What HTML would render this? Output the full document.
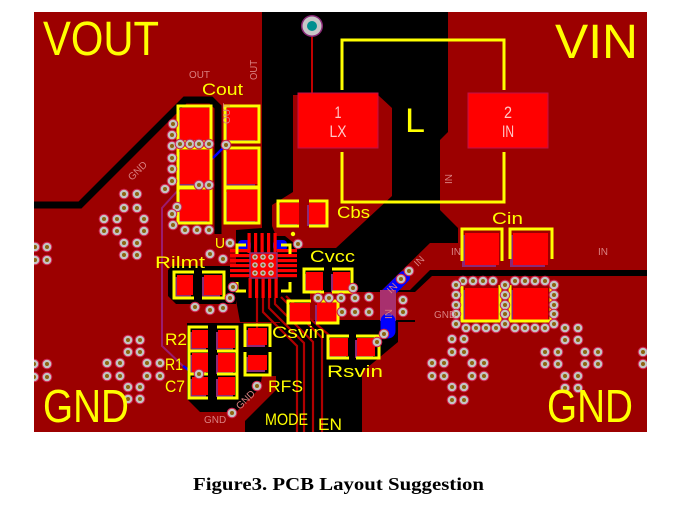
<!DOCTYPE html>
<html><head><meta charset="utf-8"><style>
html,body{margin:0;padding:0;background:#fff;}
svg{display:block;}
.y{fill:#ffff00;font-family:"Liberation Sans",sans-serif;}
.n{fill:#d98080;font-family:"Liberation Sans",sans-serif;font-size:10px;}
.p{fill:#ffc8c8;font-family:"Liberation Sans",sans-serif;font-size:17px;text-anchor:middle;}
.o{fill:none;stroke:#ffff00;stroke-width:3;}
.pad{fill:#ff0000;}
.pu{fill:#8a2a78;}
.tr{fill:none;stroke:#b00000;stroke-width:2.2;}
</style></head><body>
<svg width="676" height="506" viewBox="0 0 676 506" xmlns="http://www.w3.org/2000/svg" xmlns:xlink="http://www.w3.org/1999/xlink">
<defs>
<clipPath id="bc"><rect x="34" y="12" width="613" height="420"/></clipPath>
<g id="v"><circle r="5.3" fill="#d0204a"/><circle r="4.3" fill="#c4c4c4"/><circle r="2" fill="#8c6410"/></g>
<g id="sv"><circle r="2.8" fill="#c4c4c4"/><circle r="1.4" fill="#8c6410"/></g>
</defs>
<rect width="676" height="506" fill="#fff"/>
<g clip-path="url(#bc)">
<rect x="34" y="12" width="613" height="420" fill="#9c0000"/>

<!-- black clearance regions -->
<polygon fill="#000" points="262,12 448,12 448,132 440,140 440,210 458,228 458,270 647,270 647,276 432,276 415,292 415,322 398,322 398,342 362,372 362,432 243,432 243,422 280,385 280,322 240,322 236,300 236,230 262,228"/>
<polyline fill="none" stroke="#000" stroke-width="7" points="28,205 80,205 185,100 211,100 218,107 218,234"/>
<polygon fill="#000" points="172,266 236,266 236,304 176,304 168,296 168,270"/>
<polygon fill="#000" points="187,323 280,323 280,395 243,422 236,412 200,412 187,399"/>

<!-- dark red copper on top -->
<polygon fill="#9c0000" points="205,432 205,414 234,414 260,388 262,376 276,376 276,390 245,421 245,432"/>
<polygon fill="#9c0000" points="293,95 378,95 392,108 392,196 336,248 300,248 285,236 276,236 272,226 272,205 293,192"/>
<polygon fill="#9c0000" points="460,243 430,243 382,290 410,290 430,270 460,270"/>
<rect x="310" y="292" width="105" height="28" fill="#9c0000"/>

<!-- bottom layer traces -->
<polyline fill="none" stroke="#9b1b6e" stroke-width="2" points="190,177 162,208 162,346 183,366"/>
<line x1="183" y1="366" x2="194" y2="374" stroke="#0000ff" stroke-width="2.5"/>
<line x1="226" y1="145" x2="213" y2="158" stroke="#0000ff" stroke-width="2.5"/>
<line x1="213" y1="158" x2="206" y2="166" stroke="#9b1b6e" stroke-width="2"/>
<path d="M404,277 L387,294" stroke="#0000ff" stroke-width="12" stroke-linecap="round" fill="none"/>
<rect x="380" y="290" width="16" height="31" fill="#a8306e"/>
<path d="M388,321 L388,331" stroke="#0000ff" stroke-width="15" stroke-linecap="round" fill="none"/>

<!-- thin traces -->
<line x1="312" y1="36" x2="312" y2="94" stroke="#c00000" stroke-width="2"/>
<path class="tr" d="M257,298 L257,328"/>
<path class="tr" d="M263,298 L263,312 L297,346 L297,432"/>
<path class="tr" d="M269,298 L269,308 L304,343 L304,432"/>
<path class="tr" d="M275,298 L275,304 L313,342 L313,432"/>
<path class="tr" d="M281,297 L322,338 L322,432"/>
<path class="tr" d="M286,296 L300,310 L330,336"/>

<!-- IC blue blobs -->
<rect x="238" y="240" width="13" height="11" rx="4" fill="#0000ff"/>
<rect x="273" y="240" width="14" height="11" rx="4" fill="#0000ff"/>

<!-- pads with purple underlay -->
<g>
<rect class="pu" x="177" y="110" width="30" height="32"/><rect class="pad" x="180" y="108" width="30" height="32"/>
<rect class="pu" x="177" y="152" width="30" height="34"/><rect class="pad" x="180" y="150" width="30" height="34"/>
<rect class="pu" x="177" y="192" width="30" height="31"/><rect class="pad" x="180" y="190" width="30" height="31"/>
<rect class="pu" x="224" y="110" width="31" height="32"/><rect class="pad" x="227" y="108" width="31" height="32"/>
<rect class="pu" x="224" y="152" width="31" height="34"/><rect class="pad" x="227" y="150" width="31" height="34"/>
<rect class="pu" x="224" y="192" width="31" height="31"/><rect class="pad" x="227" y="190" width="31" height="31"/>
<rect class="pu" x="278" y="205" width="19" height="21"/><rect class="pad" x="280" y="203" width="19" height="21"/>
<rect class="pu" x="307" y="205" width="19" height="21"/><rect class="pad" x="309" y="203" width="19" height="21"/>
<rect class="pu" x="304" y="274" width="17" height="18"/><rect class="pad" x="306" y="272" width="17" height="18"/>
<rect class="pu" x="331" y="274" width="17" height="18"/><rect class="pad" x="333" y="272" width="17" height="18"/>
<rect class="pu" x="288" y="305" width="20" height="19"/><rect class="pad" x="290" y="303" width="20" height="19"/>
<rect class="pu" x="315" y="305" width="20" height="19"/><rect class="pad" x="317" y="303" width="20" height="19"/>
<rect class="pu" x="328" y="340" width="18" height="18"/><rect class="pad" x="330" y="338" width="18" height="18"/>
<rect class="pu" x="355" y="340" width="18" height="18"/><rect class="pad" x="357" y="338" width="18" height="18"/>
<rect class="pu" x="175" y="277" width="16" height="20"/><rect class="pad" x="177" y="275" width="16" height="20"/>
<rect class="pu" x="202" y="277" width="18" height="20"/><rect class="pad" x="204" y="275" width="18" height="20"/>
<rect class="pu" x="190" y="332" width="16" height="18"/><rect class="pad" x="192" y="330" width="16" height="18"/>
<rect class="pu" x="190" y="355" width="16" height="19"/><rect class="pad" x="192" y="353" width="16" height="19"/>
<rect class="pu" x="190" y="379" width="16" height="18"/><rect class="pad" x="192" y="377" width="16" height="18"/>
<rect class="pu" x="216" y="332" width="17" height="18"/><rect class="pad" x="218" y="330" width="17" height="18"/>
<rect class="pu" x="216" y="355" width="17" height="19"/><rect class="pad" x="218" y="353" width="17" height="19"/>
<rect class="pu" x="216" y="379" width="17" height="18"/><rect class="pad" x="218" y="377" width="17" height="18"/>
<rect class="pu" x="246" y="330" width="19" height="17"/><rect class="pad" x="248" y="328" width="19" height="17"/>
<rect class="pu" x="246" y="357" width="19" height="15"/><rect class="pad" x="248" y="355" width="19" height="15"/>
<rect class="pu" x="462" y="235" width="34" height="32"/><rect class="pad" x="465" y="233" width="34" height="32"/>
<rect class="pu" x="510" y="235" width="35" height="32"/><rect class="pad" x="513" y="233" width="35" height="32"/>
<rect class="pu" x="462" y="290" width="33" height="32"/><rect class="pad" x="465" y="288" width="33" height="32"/>
<rect class="pu" x="510" y="290" width="35" height="32"/><rect class="pad" x="513" y="288" width="35" height="32"/>
<rect class="pad" x="298" y="93" width="80" height="55" stroke="#c0104a" stroke-width="1"/>
<rect class="pad" x="468" y="93" width="80" height="55" stroke="#c0104a" stroke-width="1"/>
</g>

<!-- IC -->
<g fill="#ff0000">
<rect x="230" y="249" width="20" height="3.2"/><rect x="230" y="254" width="20" height="3.2"/><rect x="230" y="259" width="20" height="3.2"/><rect x="230" y="264" width="20" height="3.2"/><rect x="230" y="269" width="20" height="3.2"/><rect x="230" y="274" width="20" height="3.2"/>
<rect x="277" y="249" width="20" height="3.2"/><rect x="277" y="254" width="20" height="3.2"/><rect x="277" y="259" width="20" height="3.2"/><rect x="277" y="264" width="20" height="3.2"/><rect x="277" y="269" width="20" height="3.2"/><rect x="277" y="274" width="20" height="3.2"/>
<rect x="247.5" y="233" width="3.2" height="20"/><rect x="254" y="233" width="3.2" height="20"/><rect x="260.5" y="233" width="3.2" height="20"/><rect x="267" y="233" width="3.2" height="20"/><rect x="273.5" y="233" width="3.2" height="20"/>
<rect x="248.5" y="278" width="3.2" height="20"/><rect x="255" y="278" width="3.2" height="20"/><rect x="261.5" y="278" width="3.2" height="20"/><rect x="268" y="278" width="3.2" height="20"/><rect x="274.5" y="278" width="3.2" height="20"/>
</g>
<rect x="250" y="253" width="27" height="25" fill="#ff0000" stroke="#8a2a78" stroke-width="1.5"/>
<use xlink:href="#sv" x="255" y="257"/><use xlink:href="#sv" x="263" y="257"/><use xlink:href="#sv" x="271" y="257"/>
<use xlink:href="#sv" x="255" y="265"/><use xlink:href="#sv" x="263" y="265"/><use xlink:href="#sv" x="271" y="265"/>
<use xlink:href="#sv" x="255" y="273"/><use xlink:href="#sv" x="263" y="273"/><use xlink:href="#sv" x="271" y="273"/>
<path class="o" stroke-width="2" d="M237,254 L237,245 L246,245 M281,245 L290,245 L290,254 M237,282 L237,291 L246,291 M281,291 L290,291 L290,282"/>
<circle cx="293" cy="234" r="2.2" fill="#ffff00"/>

<!-- silkscreen outlines -->
<rect class="o" x="178" y="106" width="33" height="36"/>
<rect class="o" x="178" y="148" width="33" height="39"/>
<rect class="o" x="178" y="188" width="33" height="35"/>
<rect class="o" x="225" y="106" width="34" height="36"/>
<rect class="o" x="225" y="148" width="34" height="39"/>
<rect class="o" x="225" y="188" width="34" height="35"/>
<polyline class="o" points="342,90 342,40 504,40 504,90"/>
<polyline class="o" points="342,152 342,202 504,202 504,152"/>
<polyline class="o" points="299,201 278,201 278,226 299,226"/>
<polyline class="o" points="309,201 327,201 327,226 309,226"/>
<polyline class="o" points="324,269 304,269 304,292 324,292"/>
<polyline class="o" points="332,269 352,269 352,292 332,292"/>
<polyline class="o" points="311,301 288,301 288,323 311,323"/>
<polyline class="o" points="316,301 338,301 338,323 316,323"/>
<polyline class="o" points="349,336 328,336 328,358 349,358"/>
<polyline class="o" points="356,336 379,336 379,358 356,358"/>
<polyline class="o" points="194,272 174,272 174,298 194,298"/>
<polyline class="o" points="202,272 224,272 224,298 202,298"/>
<polyline class="o" points="208,327 189,327 189,398 208,398"/>
<polyline class="o" points="217,327 237,327 237,398 217,398"/>
<path class="o" d="M189,351 L208,351 M189,374 L208,374 M217,351 L237,351 M217,374 L237,374"/>
<polyline class="o" points="245,347 245,325 270,325 270,347"/>
<polyline class="o" points="245,352 245,375 270,375 270,352"/>
<polyline class="o" points="462,261 462,229 502,229 502,261"/>
<polyline class="o" points="510,259 510,229 552,229 552,259"/>
<polyline class="o" points="462,285 462,321 500,321 500,285"/>
<polyline class="o" points="510,285 510,321 551,321 551,285"/>

<!-- teal via -->
<circle cx="312" cy="26" r="11" fill="#8a2a78"/>
<circle cx="312" cy="26" r="9.5" fill="#c8c8c8"/>
<circle cx="312" cy="26" r="5" fill="#009090"/>

<!-- vias -->
<g>
<use xlink:href="#v" x="124" y="194"/><use xlink:href="#v" x="137" y="194"/><use xlink:href="#v" x="124" y="208"/><use xlink:href="#v" x="137" y="208"/>
<use xlink:href="#v" x="104" y="219"/><use xlink:href="#v" x="117" y="219"/><use xlink:href="#v" x="144" y="219"/>
<use xlink:href="#v" x="104" y="231"/><use xlink:href="#v" x="117" y="231"/><use xlink:href="#v" x="144" y="231"/>
<use xlink:href="#v" x="124" y="243"/><use xlink:href="#v" x="137" y="243"/><use xlink:href="#v" x="124" y="255"/><use xlink:href="#v" x="137" y="255"/>
<use xlink:href="#v" x="35" y="247"/><use xlink:href="#v" x="47" y="247"/><use xlink:href="#v" x="35" y="260"/><use xlink:href="#v" x="47" y="260"/>
<use xlink:href="#v" x="128" y="340"/><use xlink:href="#v" x="140" y="340"/><use xlink:href="#v" x="128" y="352"/><use xlink:href="#v" x="140" y="352"/>
<use xlink:href="#v" x="107" y="363"/><use xlink:href="#v" x="120" y="363"/><use xlink:href="#v" x="147" y="363"/><use xlink:href="#v" x="160" y="363"/>
<use xlink:href="#v" x="107" y="376"/><use xlink:href="#v" x="120" y="376"/><use xlink:href="#v" x="147" y="376"/><use xlink:href="#v" x="160" y="376"/>
<use xlink:href="#v" x="128" y="387"/><use xlink:href="#v" x="140" y="387"/><use xlink:href="#v" x="128" y="399"/><use xlink:href="#v" x="140" y="399"/>
<use xlink:href="#v" x="34" y="364"/><use xlink:href="#v" x="47" y="364"/><use xlink:href="#v" x="34" y="377"/><use xlink:href="#v" x="47" y="377"/>
<use xlink:href="#v" x="173" y="124"/><use xlink:href="#v" x="172" y="135"/><use xlink:href="#v" x="172" y="146"/>
<use xlink:href="#v" x="180" y="144"/><use xlink:href="#v" x="190" y="144"/><use xlink:href="#v" x="199" y="144"/><use xlink:href="#v" x="209" y="144"/><use xlink:href="#v" x="226" y="145"/>
<use xlink:href="#v" x="172" y="158"/><use xlink:href="#v" x="172" y="169"/><use xlink:href="#v" x="172" y="181"/><use xlink:href="#v" x="165" y="189"/>
<use xlink:href="#v" x="199" y="185"/><use xlink:href="#v" x="209" y="185"/>
<use xlink:href="#v" x="177" y="207"/><use xlink:href="#v" x="172" y="214"/><use xlink:href="#v" x="173" y="225"/>
<use xlink:href="#v" x="185" y="230"/><use xlink:href="#v" x="197" y="230"/><use xlink:href="#v" x="209" y="230"/>
<use xlink:href="#v" x="230" y="243"/><use xlink:href="#v" x="298" y="244"/><use xlink:href="#v" x="210" y="254"/><use xlink:href="#v" x="223" y="259"/>
<use xlink:href="#v" x="233" y="287"/><use xlink:href="#v" x="230" y="298"/><use xlink:href="#v" x="195" y="307"/><use xlink:href="#v" x="210" y="310"/><use xlink:href="#v" x="223" y="308"/>
<use xlink:href="#v" x="199" y="374"/><use xlink:href="#v" x="257" y="386"/><use xlink:href="#v" x="232" y="413"/>
<use xlink:href="#v" x="353" y="288"/><use xlink:href="#v" x="318" y="298"/><use xlink:href="#v" x="329" y="298"/><use xlink:href="#v" x="341" y="298"/><use xlink:href="#v" x="355" y="298"/><use xlink:href="#v" x="369" y="297"/>
<use xlink:href="#v" x="403" y="300"/><use xlink:href="#v" x="342" y="312"/><use xlink:href="#v" x="355" y="312"/><use xlink:href="#v" x="369" y="312"/><use xlink:href="#v" x="403" y="312"/>
<use xlink:href="#v" x="409" y="271"/><use xlink:href="#v" x="401" y="279"/><use xlink:href="#v" x="384" y="334"/><use xlink:href="#v" x="377" y="342"/>
<use xlink:href="#v" x="463" y="281"/><use xlink:href="#v" x="473" y="281"/><use xlink:href="#v" x="483" y="281"/><use xlink:href="#v" x="493" y="281"/>
<use xlink:href="#v" x="515" y="281"/><use xlink:href="#v" x="525" y="281"/><use xlink:href="#v" x="535" y="281"/><use xlink:href="#v" x="545" y="281"/>
<use xlink:href="#v" x="456" y="285"/><use xlink:href="#v" x="456" y="295"/><use xlink:href="#v" x="456" y="305"/><use xlink:href="#v" x="456" y="314"/><use xlink:href="#v" x="456" y="324"/>
<use xlink:href="#v" x="505" y="285"/><use xlink:href="#v" x="505" y="295"/><use xlink:href="#v" x="505" y="305"/><use xlink:href="#v" x="505" y="314"/><use xlink:href="#v" x="505" y="324"/>
<use xlink:href="#v" x="554" y="285"/><use xlink:href="#v" x="554" y="295"/><use xlink:href="#v" x="554" y="305"/><use xlink:href="#v" x="554" y="314"/><use xlink:href="#v" x="554" y="324"/>
<use xlink:href="#v" x="466" y="328"/><use xlink:href="#v" x="476" y="328"/><use xlink:href="#v" x="486" y="328"/><use xlink:href="#v" x="496" y="328"/>
<use xlink:href="#v" x="515" y="328"/><use xlink:href="#v" x="525" y="328"/><use xlink:href="#v" x="535" y="328"/><use xlink:href="#v" x="545" y="328"/>
<use xlink:href="#v" x="452" y="339"/><use xlink:href="#v" x="464" y="339"/><use xlink:href="#v" x="452" y="352"/><use xlink:href="#v" x="464" y="352"/>
<use xlink:href="#v" x="432" y="363"/><use xlink:href="#v" x="444" y="363"/><use xlink:href="#v" x="472" y="363"/><use xlink:href="#v" x="484" y="363"/>
<use xlink:href="#v" x="432" y="376"/><use xlink:href="#v" x="444" y="376"/><use xlink:href="#v" x="472" y="376"/><use xlink:href="#v" x="484" y="376"/>
<use xlink:href="#v" x="452" y="387"/><use xlink:href="#v" x="464" y="387"/><use xlink:href="#v" x="452" y="400"/><use xlink:href="#v" x="464" y="400"/>
<use xlink:href="#v" x="565" y="328"/><use xlink:href="#v" x="578" y="328"/><use xlink:href="#v" x="565" y="340"/><use xlink:href="#v" x="578" y="340"/>
<use xlink:href="#v" x="545" y="352"/><use xlink:href="#v" x="558" y="352"/><use xlink:href="#v" x="585" y="352"/><use xlink:href="#v" x="598" y="352"/>
<use xlink:href="#v" x="545" y="364"/><use xlink:href="#v" x="558" y="364"/><use xlink:href="#v" x="585" y="364"/><use xlink:href="#v" x="598" y="364"/>
<use xlink:href="#v" x="565" y="376"/><use xlink:href="#v" x="578" y="376"/><use xlink:href="#v" x="565" y="388"/><use xlink:href="#v" x="578" y="388"/>
<use xlink:href="#v" x="643" y="352"/><use xlink:href="#v" x="643" y="364"/>
</g>

<!-- pad labels -->
<text class="p" x="338" y="118" textLength="7" lengthAdjust="spacingAndGlyphs">1</text>
<text class="p" x="338" y="137" textLength="17" lengthAdjust="spacingAndGlyphs">LX</text>
<text class="p" x="508" y="118" textLength="8" lengthAdjust="spacingAndGlyphs">2</text>
<text class="p" x="508" y="137" textLength="12" lengthAdjust="spacingAndGlyphs">IN</text>

<!-- net labels -->
<text class="n" x="189" y="78" textLength="21" lengthAdjust="spacingAndGlyphs">OUT</text>
<text class="n" transform="translate(257,80) rotate(-90)" textLength="20" lengthAdjust="spacingAndGlyphs">OUT</text>
<text class="n" font-size="8" transform="translate(230,124) rotate(-90)">OUT</text>
<text class="n" transform="translate(132,181) rotate(-45)">GND</text>
<text class="n" transform="translate(452,184) rotate(-90)">IN</text>
<text class="n" x="451" y="255">IN</text>
<text class="n" x="598" y="255">IN</text>
<text class="n" transform="translate(418,267) rotate(-45)">IN</text>
<text class="n" transform="translate(391,294) rotate(-45)">IN</text>
<text class="n" transform="translate(392,319) rotate(-90)">IN</text>
<text class="n" x="434" y="318">GND</text>
<text class="n" x="204" y="423">GND</text>
<text class="n" transform="translate(240,410) rotate(-45)">GND</text>

<!-- big labels -->
<text class="y" x="43" y="55" font-size="48" textLength="116" lengthAdjust="spacingAndGlyphs">VOUT</text>
<text class="y" x="555" y="58" font-size="48" textLength="83" lengthAdjust="spacingAndGlyphs">VIN</text>
<text class="y" x="43" y="422" font-size="46" textLength="86" lengthAdjust="spacingAndGlyphs">GND</text>
<text class="y" x="547" y="422" font-size="46" textLength="86" lengthAdjust="spacingAndGlyphs">GND</text>
<text class="y" x="405" y="132" font-size="34" textLength="20" lengthAdjust="spacingAndGlyphs">L</text>

<!-- component labels -->
<text class="y" x="202" y="95" font-size="17" textLength="41" lengthAdjust="spacingAndGlyphs">Cout</text>
<text class="y" x="337" y="218" font-size="17" textLength="33" lengthAdjust="spacingAndGlyphs">Cbs</text>
<text class="y" x="215" y="248" font-size="15" textLength="10" lengthAdjust="spacingAndGlyphs">U</text>
<text class="y" x="155" y="268" font-size="17" textLength="50" lengthAdjust="spacingAndGlyphs">Rilmt</text>
<text class="y" x="310" y="262" font-size="17" textLength="45" lengthAdjust="spacingAndGlyphs">Cvcc</text>
<text class="y" x="272" y="338" font-size="17" textLength="53" lengthAdjust="spacingAndGlyphs">Csvin</text>
<text class="y" x="165" y="345" font-size="17" textLength="22" lengthAdjust="spacingAndGlyphs">R2</text>
<text class="y" x="165" y="370" font-size="17" textLength="18" lengthAdjust="spacingAndGlyphs">R1</text>
<text class="y" x="165" y="392" font-size="17" textLength="20" lengthAdjust="spacingAndGlyphs">C7</text>
<text class="y" x="268" y="392" font-size="17" textLength="35" lengthAdjust="spacingAndGlyphs">RFS</text>
<text class="y" x="327" y="377" font-size="17" textLength="56" lengthAdjust="spacingAndGlyphs">Rsvin</text>
<text class="y" x="265" y="425" font-size="17" textLength="43" lengthAdjust="spacingAndGlyphs">MODE</text>
<text class="y" x="318" y="430" font-size="17" textLength="24" lengthAdjust="spacingAndGlyphs">EN</text>
<text class="y" x="492" y="224" font-size="17" textLength="31" lengthAdjust="spacingAndGlyphs">Cin</text>
</g>

<text x="193" y="490" font-family="'Liberation Serif',serif" font-weight="bold" font-size="18" fill="#000" textLength="291" lengthAdjust="spacingAndGlyphs">Figure3. PCB Layout Suggestion</text>
</svg>
</body></html>
